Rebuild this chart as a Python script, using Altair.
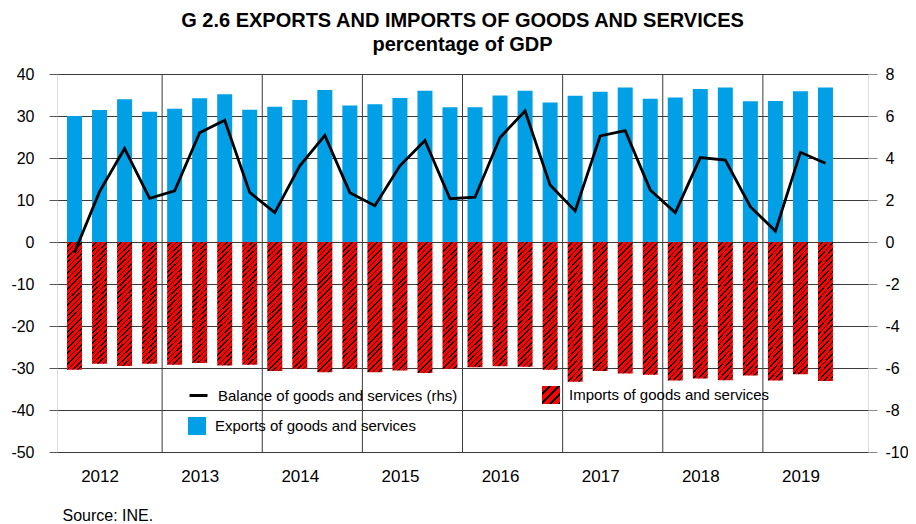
import altair as alt
import pandas as pd

# ---------------- data ----------------
years = [2012, 2013, 2014, 2015, 2016, 2017, 2018, 2019]
quarters = ["Q1", "Q2", "Q3", "Q4"]

exports = [30.0, 31.4, 34.0, 31.0,
           31.7, 34.2, 35.2, 31.5,
           32.2, 33.8, 36.2, 32.5,
           32.8, 34.3, 36.0, 32.1,
           32.1, 34.9, 36.0, 33.2,
           34.8, 35.8, 36.8, 34.1,
           34.4, 36.4, 36.8, 33.5,
           33.6, 35.9, 36.8]
imports = [-30.4, -29.0, -29.5, -29.0,
           -29.2, -28.8, -29.4, -29.2,
           -30.7, -30.2, -31.0, -30.2,
           -31.0, -30.6, -31.2, -30.2,
           -29.8, -29.6, -29.7, -30.4,
           -33.3, -30.7, -31.3, -31.6,
           -33.0, -32.5, -32.9, -31.8,
           -33.0, -31.5, -33.1]
balance = [-0.5, 2.4, 4.45, 2.08,
           2.44, 5.2, 5.8, 2.36,
           1.4, 3.63, 5.08, 2.35,
           1.73, 3.63, 4.83, 2.06,
           2.13, 4.98, 6.24, 2.71,
           1.48, 5.05, 5.3, 2.48,
           1.4, 4.02, 3.9, 1.68,
           0.52, 4.27, 3.75]

left_ticks = [-50, -40, -30, -20, -10, 0, 10, 20, 30, 40]
right_ticks = [-10, -8, -6, -4, -2, 0, 2, 4, 6, 8]

S_BAL = "Balance of goods and services (rhs)"
S_IMP = "Imports of goods and services"
S_EXP = "Exports of goods and services"

# ---------------- styles ----------------
FONT = "Liberation Sans"
BLUE = "#009FE6"
RED = "#FF0000"
BG = "#E0FAFC"
GRID = "#3a3a3a"
PLAIN_NUMBER = "'' + datum.value"   # hyphen-minus, as in the original


def hatch_stops(n, frac):
    stops = []
    for k in range(n):
        a = round(k / n, 5)
        b = round((k + 1 - frac) / n, 5)
        c = round((k + 1) / n, 5)
        stops += [
            {"offset": a, "color": RED},
            {"offset": b, "color": RED},
            {"offset": b, "color": "#000000"},
            {"offset": c, "color": "#000000"},
        ]
    return stops


bar_hatch = {"gradient": "linear", "x1": 0, "y1": 0, "x2": 0.138, "y2": 1.2,
             "stops": hatch_stops(29, 0.28)}
legend_hatch = {"gradient": "linear", "x1": 0, "y1": 0, "x2": 1, "y2": 1,
                "stops": hatch_stops(4, 0.3)}

# ---------------- tables ----------------
n = len(exports)
periods = [f"{y} {q}" for y in years for q in quarters][:n]
pos = [i + 0.5 for i in range(n)]
df_exp = pd.DataFrame({"pos": pos, "period": periods, "pct": exports, "series": S_EXP})
df_imp = pd.DataFrame({"pos": pos, "period": periods, "pct": imports, "series": S_IMP})
df_bal = pd.DataFrame({"pos": pos, "period": periods, "balance": balance, "series": S_BAL})
df_imp_legend = pd.DataFrame({"pos": pd.Series([], dtype=float),
                              "pct": pd.Series([], dtype=float),
                              "series": pd.Series([], dtype=str)})
df_years = pd.DataFrame({"start": [4 * i for i in range(1, len(years))]})

n_slots = 4 * len(years)
year_label_expr = "[" + ",".join(f"'{y}'" for y in years) + "][floor(datum.value / 4)]"

x_scale = alt.Scale(domain=[0, n_slots], nice=False, zero=False)
x_axis = alt.Axis(values=[4 * i + 1.5 for i in range(len(years))], labelExpr=year_label_expr,
                  domain=False, ticks=False, tickSize=0, grid=False,
                  labelFontSize=17, labelPadding=16, labelColor="black", labelFont=FONT,
                  title="Source: INE.", titleFont=FONT, titleFontSize=16, titleFontWeight="normal",
                  titleColor="black", titleAlign="left", titleAnchor="start", titleX=5, titleY=68,
                  titleBaseline="alphabetic")

y_scale = alt.Scale(domain=[-50, 40], nice=False, zero=False)
y_axis = alt.Axis(values=left_ticks, labelExpr=PLAIN_NUMBER, domain=False, grid=True,
                  gridColor=GRID, gridWidth=1, gridOpacity=1, tickSize=8, tickColor="#555555",
                  labelPadding=15, labelFontSize=16, labelFont=FONT, labelColor="black",
                  title=None)


def legend_at(x, y, symbol, **kw):
    return alt.Legend(title=None, orient="none", legendX=x, legendY=y, padding=0,
                      symbolType=symbol, symbolSize=324, symbolOpacity=1,
                      labelFontSize=15, labelFont=FONT, labelColor="black", labelOffset=9,
                      labelLimit=400, **kw)


rules = alt.Chart(df_years).mark_rule(color=GRID, strokeWidth=1).encode(
    x=alt.X("start:Q", scale=x_scale, axis=x_axis)
)

exp_bars = alt.Chart(df_exp).mark_bar(width=15).encode(
    x=alt.X("pos:Q", scale=x_scale, axis=x_axis),
    y=alt.Y("pct:Q", scale=y_scale, axis=y_axis),
    color=alt.Color("series:N", scale=alt.Scale(domain=[S_EXP], range=[BLUE]),
                    legend=legend_at(131, 343, "square", symbolStrokeWidth=0)),
    tooltip=["period:N", "pct:Q"],
)

imp_bars = alt.Chart(df_imp).mark_bar(width=15, fill=bar_hatch).encode(
    x=alt.X("pos:Q", scale=x_scale, axis=x_axis),
    y=alt.Y("pct:Q", scale=y_scale, axis=y_axis),
    tooltip=["period:N", "pct:Q"],
)

# carries only the legend entry of the hatched import bars
imp_key = alt.Chart(df_imp_legend).mark_bar(width=15, fill=legend_hatch).encode(
    x=alt.X("pos:Q", scale=x_scale, axis=x_axis),
    y=alt.Y("pct:Q", scale=y_scale, axis=y_axis),
    opacity=alt.Opacity("series:N", scale=alt.Scale(domain=[S_IMP], range=[1]),
                        legend=legend_at(485, 312, "square", symbolStrokeWidth=0)),
)

left = alt.layer(rules, exp_bars, imp_bars, imp_key)

line = alt.Chart(df_bal).mark_line(strokeWidth=2.8).encode(
    x=alt.X("pos:Q", scale=x_scale, axis=x_axis),
    y=alt.Y("balance:Q", scale=alt.Scale(domain=[-10, 8], nice=False, zero=False),
            axis=alt.Axis(orient="right", values=right_ticks, labelExpr=PLAIN_NUMBER,
                          domain=False, grid=False, tickSize=9, tickColor="#888888",
                          labelPadding=8, labelFontSize=16, labelFont=FONT,
                          labelColor="black", title=None)),
    stroke=alt.Stroke("series:N", scale=alt.Scale(domain=[S_BAL], range=["black"]),
                      legend=legend_at(131, 311, "stroke", symbolStrokeWidth=3)),
    tooltip=["period:N", "balance:Q"],
)

chart = alt.layer(left, line).resolve_scale(y="independent").properties(
    width=811,
    height=378,
    autosize=alt.AutoSizeParams(type="none"),
    padding={"left": 49, "top": 66, "right": 40, "bottom": 72},
    title=alt.TitleParams(
        text=["G 2.6 EXPORTS AND IMPORTS OF GOODS AND SERVICES", "percentage of GDP"],
        font=FONT, fontSize=20, fontWeight="bold", color="black",
        anchor="middle", frame="group", offset=11, lineHeight=24,
    ),
).configure_view(
    fill=BG, stroke="black", strokeWidth=2
).configure(font=FONT, background="white")

chart.save("out.html", embed_options={"renderer": "svg", "actions": False})
